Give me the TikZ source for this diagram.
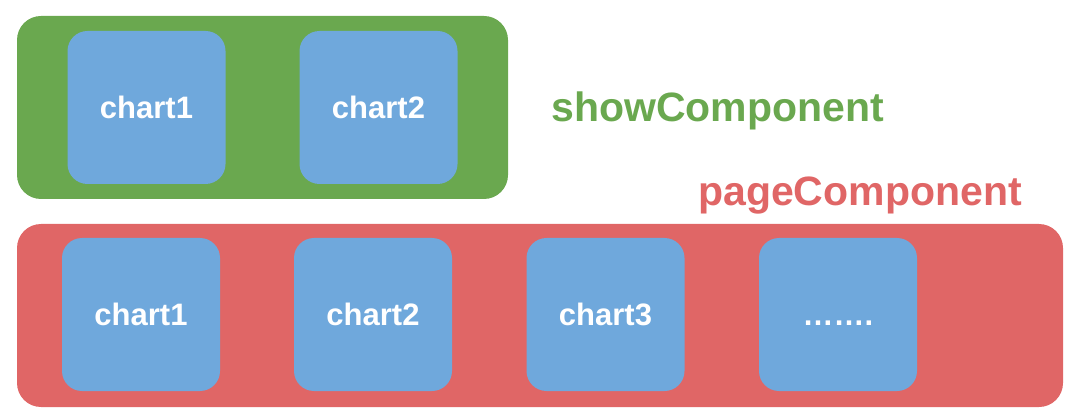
\documentclass[tikz,border=0pt]{standalone}
\usepackage{fontspec}
\setmainfont{Liberation Sans}
\usepackage{tikz}
\usetikzlibrary{
    positioning,
    backgrounds
}
\definecolor{showgreen}{HTML}{6AA84F}
\definecolor{pagered}{HTML}{E06666}
\definecolor{chartblue}{HTML}{6FA8DC}
\tikzset{
    component/.style={
        shape=rectangle, rounded corners=18pt, fill=#1, draw=none,
        minimum width=491*0.75pt, minimum height=183*0.75pt
    },
    chart/.style={
        shape=rectangle, rounded corners=15pt, fill=chartblue, draw=none,
        minimum width=158*0.75pt, minimum height=153*0.75pt,
        font=\fontsize{23.25}{28}\bfseries\selectfont, text=white,
        text height=16.5pt, text depth=0pt
    },
    component label/.style={
        font=\fontsize{30.75}{36}\bfseries\selectfont, text=#1,
        anchor=base, inner sep=0pt
    },
}
\begin{document}
\begin{tikzpicture}[x=0.75pt,y=-0.75pt]
    \useasboundingbox (0,0) rectangle (1089,417);
    % the two containers
    \node[component=showgreen] (show) at (262.5,107.5) {};
    \node[component=pagered, minimum width=1046*0.75pt] (page) at (540,315.5) {};
    % charts shown
    \node[chart] (show_1) at (146.5,107.5) {chart1};
    \node[chart] (show_2) at (378.5,107.5) {chart2};
    % charts in the page
    \node[chart] (page_1) at (141,314.5) {chart1};
    \node[chart] (page_2) at (373,314.5) {chart2};
    \node[chart] (page_3) at (605.5,314.5) {chart3};
    \node[chart] (page_4) at (838,314.5) {…….};
    % labels
    \node[component label=showgreen] (show_label) at (717.5,121.5) {showComponent};
    \node[component label=pagered] (page_label) at (860,205) {pageComponent};
\end{tikzpicture}
\end{document}
